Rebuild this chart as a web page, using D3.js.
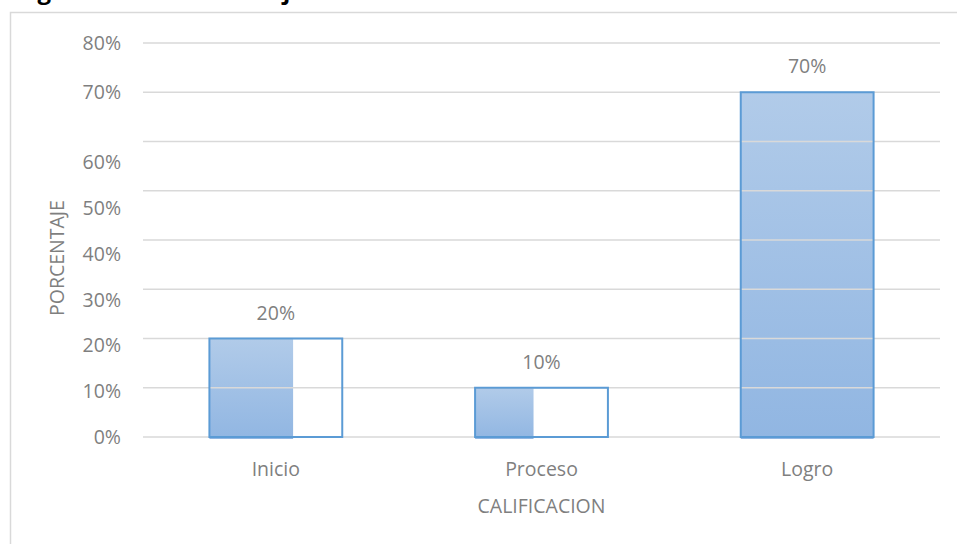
<!DOCTYPE html>
<html>
<head>
<meta charset="utf-8">
<script src="https://cdn.jsdelivr.net/npm/d3@7"></script>
<style>
  html, body { margin: 0; padding: 0; background: #fff; }
  svg { display: block; }
  text { font-family: "Open Sans", sans-serif; }
</style>
</head>
<body>
<svg id="chart" width="957" height="544"></svg>
<script>
// ---- data ----
const categories = ["Inicio", "Proceso", "Logro"];
const values = [0.20, 0.10, 0.70];
const tickValues = [0, 0.1, 0.2, 0.3, 0.4, 0.5, 0.6, 0.7, 0.8];
const xTitle = "CALIFICACION";
const yTitle = "PORCENTAJE";
const figureTitle = "Figura N° 10. Porcentaje";

// ---- drawing ----
const W = 957, H = 544;
const svg = d3.select("#chart");
const plot = { left: 143, right: 940, top: 43, bottom: 437 };
const textColor = "#7f7f7f";
const gridColor = "#d9d9d9";
const fontSize = 19.5;

// clipped figure caption at the very top
svg.append("text")
  .attr("x", 17).attr("y", -1)
  .attr("font-family", "'Liberation Serif', serif")
  .attr("font-weight", "bold")
  .attr("font-size", 24)
  .attr("fill", "#000")
  .text(figureTitle);

// chart frame
svg.append("rect")
  .attr("x", 10.5).attr("y", 12.5)
  .attr("width", W + 20).attr("height", H + 20)
  .attr("fill", "none")
  .attr("stroke", gridColor)
  .attr("stroke-width", 1.5);

const x = d3.scaleBand().domain(categories).range([plot.left, plot.right])
  .paddingInner(0.5).paddingOuter(0.25);
const y = d3.scaleLinear().domain([0, 0.8]).range([plot.bottom, plot.top]);
// the tick labels in the source sit on a compressed scale below 70%
const yLab = d3.scaleLinear().domain([0, 0.8]).range([plot.bottom, plot.bottom - 8 * 45.8]);
const fmt = d3.format(".0%");

const defs = svg.append("defs");
const grad = defs.append("linearGradient")
  .attr("id", "barGrad").attr("x1", 0).attr("y1", 0).attr("x2", 0).attr("y2", 1);
grad.append("stop").attr("offset", "0%").attr("stop-color", "#b1cbe9");
grad.append("stop").attr("offset", "100%").attr("stop-color", "#91b6e2");

// partial fill widths as they appear in the source image
const fillShare = { "Inicio": 0.63, "Proceso": 0.44, "Logro": 1 };
const data = categories.map((c, i) => ({ c, v: values[i] }));

// bar fills
svg.append("g").selectAll("rect").data(data).enter().append("rect")
  .attr("x", d => x(d.c))
  .attr("y", d => y(d.v))
  .attr("width", d => x.bandwidth() * fillShare[d.c])
  .attr("height", d => y(0) - y(d.v) + 2)
  .attr("fill", "url(#barGrad)");

// gridlines
svg.append("g").selectAll("line").data(tickValues).enter().append("line")
  .attr("x1", plot.left).attr("x2", plot.right)
  .attr("y1", d => y(d)).attr("y2", d => y(d))
  .attr("stroke", gridColor).attr("stroke-width", 1.5);

// bar outlines
svg.append("g").selectAll("rect").data(data).enter().append("rect")
  .attr("x", d => x(d.c))
  .attr("y", d => y(d.v))
  .attr("width", x.bandwidth())
  .attr("height", d => y(0) - y(d.v))
  .attr("fill", "none")
  .attr("stroke", "#5b9bd5")
  .attr("stroke-width", 2);

// y tick labels
svg.append("g").selectAll("text").data(tickValues).enter().append("text")
  .attr("x", 121)
  .attr("y", d => (d <= 0.6 ? yLab(d) : y(d)))
  .attr("dy", "0.36em")
  .attr("text-anchor", "end")
  .attr("font-size", fontSize)
  .attr("fill", textColor)
  .text(d => fmt(d));

// data labels
svg.append("g").selectAll("text").data(data).enter().append("text")
  .attr("x", d => x(d.c) + x.bandwidth() / 2)
  .attr("y", d => y(d.v) - 26)
  .attr("dy", "0.36em")
  .attr("text-anchor", "middle")
  .attr("font-size", fontSize)
  .attr("fill", textColor)
  .text(d => fmt(d.v));

// x category labels
svg.append("g").selectAll("text").data(categories).enter().append("text")
  .attr("x", d => x(d) + x.bandwidth() / 2)
  .attr("y", 469)
  .attr("dy", "0.36em")
  .attr("text-anchor", "middle")
  .attr("font-size", fontSize)
  .attr("fill", textColor)
  .text(d => d);

// axis titles
svg.append("text")
  .attr("x", (plot.left + plot.right) / 2)
  .attr("y", 506)
  .attr("dy", "0.36em")
  .attr("text-anchor", "middle")
  .attr("font-size", fontSize)
  .attr("fill", textColor)
  .text(xTitle);

svg.append("text")
  .attr("transform", "translate(57,258) rotate(-90)")
  .attr("dy", "0.36em")
  .attr("text-anchor", "middle")
  .attr("font-size", fontSize)
  .attr("fill", textColor)
  .text(yTitle);
</script>
</body>
</html>
